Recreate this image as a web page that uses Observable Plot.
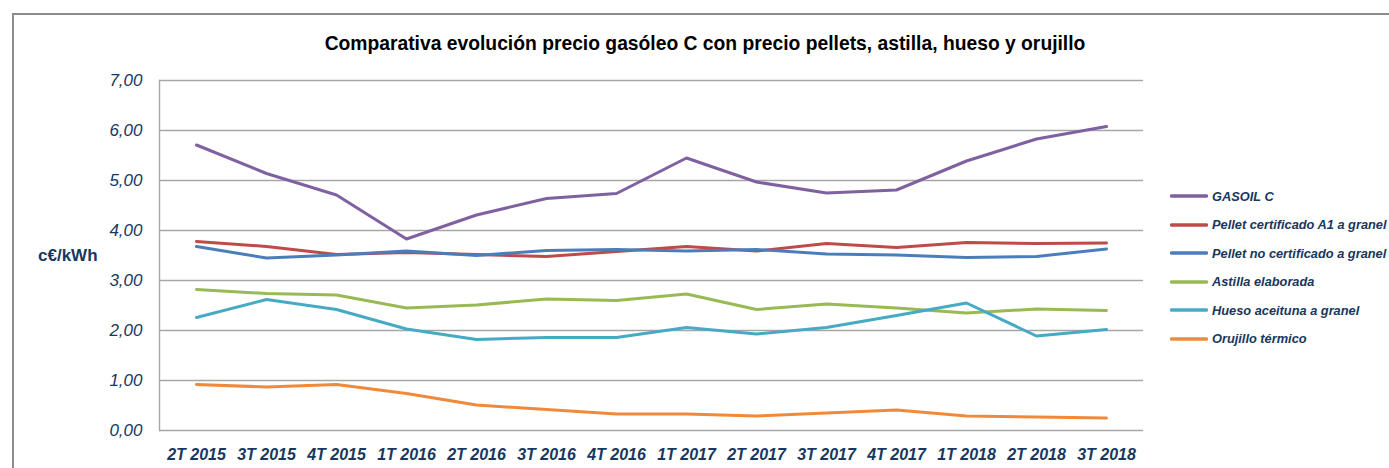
<!DOCTYPE html>
<html>
<head>
<meta charset="utf-8">
<script src="https://cdn.jsdelivr.net/npm/d3@7"></script>
<script src="https://cdn.jsdelivr.net/npm/@observablehq/plot@0.6"></script>
<style>
  html, body { margin: 0; padding: 0; background: #fff; }
  #wrap { position: relative; width: 1389px; height: 468px; overflow: hidden; font-family: "Liberation Sans", Arial, sans-serif; }
  #chart { position: absolute; left: 0; top: 0; }
  #frame { position: absolute; left: 12px; top: 13px; width: 1380px; height: 470px; border-top: 2px solid #8c8c8c; border-left: 2px solid #8c8c8c; box-sizing: border-box; }
  #title { position: absolute; left: 205px; width: 1000px; top: 34px; text-align: center; font-weight: bold; font-size: 19.3px; line-height: 19px; color: #000; }
  #ylab { position: absolute; left: 38px; top: 247px; font-weight: bold; font-size: 17px; line-height: 17px; color: #17375E; }
  .lg { position: absolute; left: 1170px; height: 20px; display: flex; align-items: center; font-weight: bold; font-style: italic; font-size: 12.8px; color: #17375E; white-space: nowrap; }
  .lg svg { margin-right: 4px; }
</style>
</head>
<body>
<div id="wrap">
  <div id="chart"></div>
  <div id="frame"></div>
  <div id="title"></div>
  <div id="ylab"></div>
  <div id="legend"></div>
</div>
<script>
const quarters = ["2T 2015","3T 2015","4T 2015","1T 2016","2T 2016","3T 2016","4T 2016","1T 2017","2T 2017","3T 2017","4T 2017","1T 2018","2T 2018","3T 2018"];
const gasoil       = [5.71, 5.14, 4.71, 3.83, 4.31, 4.64, 4.74, 5.45, 4.97, 4.75, 4.81, 5.39, 5.83, 6.08];
const pelletA1     = [3.78, 3.68, 3.52, 3.56, 3.52, 3.48, 3.58, 3.68, 3.59, 3.74, 3.66, 3.76, 3.74, 3.75];
const pelletNoCert = [3.68, 3.45, 3.51, 3.59, 3.50, 3.60, 3.62, 3.59, 3.62, 3.53, 3.51, 3.46, 3.48, 3.63];
const astilla      = [2.82, 2.74, 2.71, 2.45, 2.51, 2.63, 2.60, 2.73, 2.42, 2.53, 2.45, 2.35, 2.43, 2.40];
const hueso        = [2.26, 2.62, 2.42, 2.03, 1.82, 1.86, 1.86, 2.06, 1.93, 2.06, 2.30, 2.55, 1.89, 2.02];
const orujillo     = [0.92, 0.87, 0.92, 0.74, 0.51, 0.42, 0.33, 0.33, 0.29, 0.35, 0.41, 0.29, 0.27, 0.25];
const seriesNames  = ["GASOIL C","Pellet certificado A1 a granel","Pellet no certificado a granel","Astilla elaborada","Hueso aceituna a granel","Orujillo térmico"];
const seriesColors = ["#7F60A0","#BE4B48","#4A7EBB","#98B954","#46AAC5","#F08A3A"];
const yTicks = [0, 1, 2, 3, 4, 5, 6, 7];
const titleText = "Comparativa evolución precio gasóleo C con precio pellets, astilla, hueso y orujillo";
const yLabel = "c€/kWh";

const seriesValues = [gasoil, pelletA1, pelletNoCert, astilla, hueso, orujillo];
const rows = [];
seriesNames.forEach((name, i) => {
  seriesValues[i].forEach((v, j) => rows.push({series: name, q: quarters[j], v}));
});

const navy = "#17375E";
const plot = Plot.plot({
  width: 1389,
  height: 468,
  marginLeft: 159,
  marginRight: 246,
  marginTop: 80,
  marginBottom: 38,
  style: {fontFamily: "'Liberation Sans', Arial, sans-serif", background: "transparent"},
  x: {type: "point", domain: quarters, padding: 0.5, label: null},
  y: {domain: [0, 7], label: null},
  color: {domain: seriesNames, range: seriesColors},
  marks: [
    Plot.gridY(yTicks, {stroke: "#a6a6a6", strokeOpacity: 1, strokeWidth: 1.4}),
    Plot.frame({anchor: "left", stroke: "#a6a6a6", strokeWidth: 1.4}),
    Plot.axisY(yTicks, {tickSize: 0, tickPadding: 17, tickFormat: d => d.toFixed(2).replace(".", ","), fontStyle: "italic", fontSize: 17, fill: navy, label: null}),
    Plot.axisX({tickSize: 0, tickPadding: 18, fontWeight: "bold", fontStyle: "italic", fontSize: 16, fill: navy, label: null}),
    Plot.line(rows, {x: "q", y: "v", z: "series", stroke: "series", strokeWidth: 3, strokeLinejoin: "round", strokeLinecap: "round"})
  ]
});
document.getElementById("chart").appendChild(plot);
document.getElementById("title").textContent = titleText;
document.getElementById("ylab").textContent = yLabel;

const legend = document.getElementById("legend");
seriesNames.forEach((name, i) => {
  const row = document.createElement("div");
  row.className = "lg";
  row.style.top = (186 + 28.5 * i) + "px";
  row.innerHTML = `<svg width="38" height="6"><line x1="1.5" y1="3" x2="36.5" y2="3" stroke="${seriesColors[i]}" stroke-width="3.5" stroke-linecap="round"/></svg>`;
  const span = document.createElement("span");
  span.textContent = name;
  row.appendChild(span);
  legend.appendChild(row);
});
</script>
</body>
</html>
